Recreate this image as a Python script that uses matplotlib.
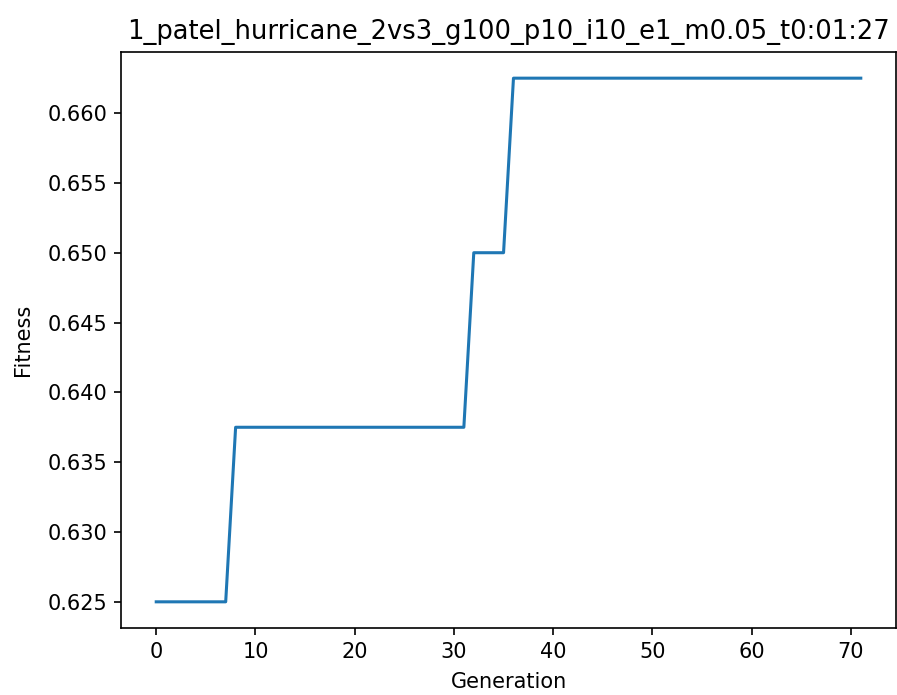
import matplotlib
matplotlib.use("Agg")
import matplotlib.pyplot as plt

generations = list(range(72))
fitness = [0.625] * 8 + [0.6375] * 24 + [0.65] * 4 + [0.6625] * 36

fig = plt.figure(figsize=(8.97, 6.95), dpi=100)
ax = fig.add_axes([0.1349, 0.0964, 0.8640, 0.8288])
ax.plot(generations, fitness, linewidth=2.2)
ax.set_title("1_patel_hurricane_2vs3_g100_p10_i10_e1_m0.05_t0:01:27", fontsize=18.5, pad=9)
ax.set_xlabel("Generation", fontsize=15, labelpad=7)
ax.set_ylabel("Fitness", fontsize=15, labelpad=10)
ax.tick_params(labelsize=15, length=5, width=1.2, pad=5)
for s in ax.spines.values():
    s.set_linewidth(1.2)
fig.savefig("out.png", dpi=100)
